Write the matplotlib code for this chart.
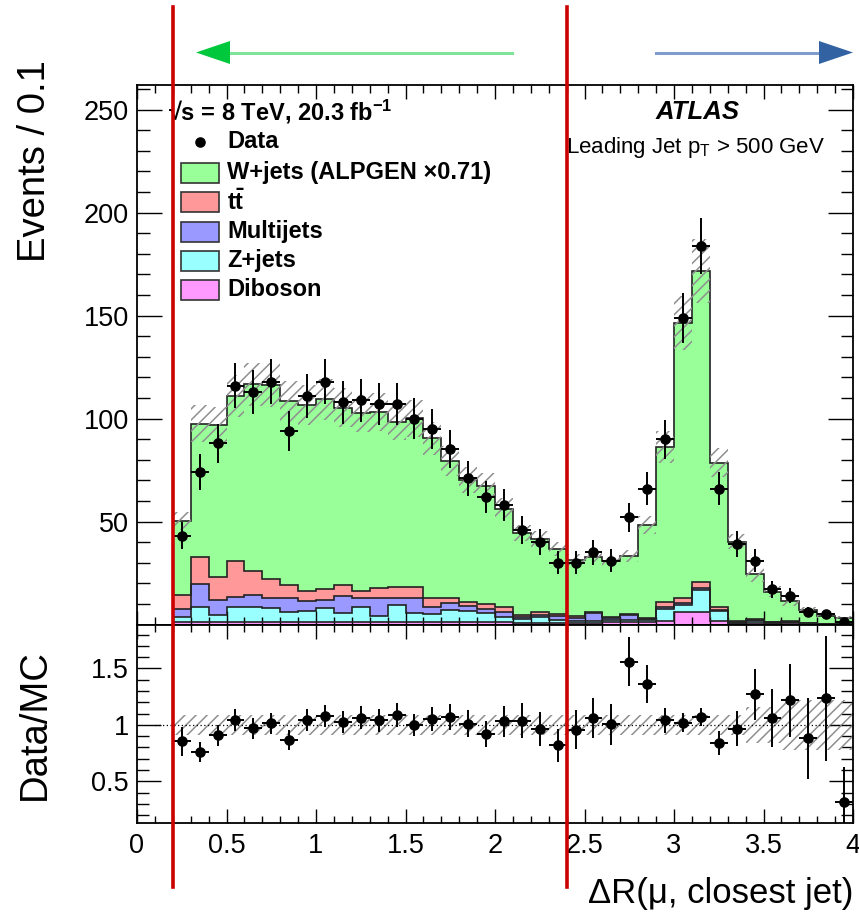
import numpy as np
import matplotlib
matplotlib.use('Agg')
import matplotlib.pyplot as plt
from matplotlib.lines import Line2D
from matplotlib.patches import Polygon, Rectangle
from matplotlib.ticker import MultipleLocator, FixedLocator

plt.rcParams['font.family'] = ['Liberation Sans', 'DejaVu Sans']
plt.rcParams['mathtext.fontset'] = 'custom'
plt.rcParams['mathtext.rm'] = 'Liberation Sans'
plt.rcParams['mathtext.bf'] = 'Liberation Sans:bold'
plt.rcParams['mathtext.it'] = 'Liberation Sans:italic'
plt.rcParams['hatch.linewidth'] = 1.1
plt.rcParams['hatch.color'] = '#8f8f8f'

# ---------------- data (bins of 0.1 from 0.2 to 4.0) ----------------
bin_edges = np.round(np.arange(0.2, 4.0001, 0.1), 2)

data = [43, 74, 88, 116, 113, 118, 94, 111, 118, 108,
        109, 107, 107, 100, 95, 85, 71, 62, 58, 46,
        40, 30, 30, 35, 31, 52, 66, 90, 149, 184,
        66, 39, 31, 17, 14, 6, 5, 1]

wjets = [35.9, 64.9, 73.8, 80.4, 90.7, 94.3, 89.0, 90.2, 92.1, 86.0,
         86.1, 85.5, 79.9, 81.9, 77.6, 66.6, 59.2, 57.3, 47.8, 39.6,
         35.5, 31.7, 27.4, 27.0, 27.2, 28.4, 45.2, 75.6, 133.4, 151.1,
         70.0, 38.4, 21.5, 14.9, 9.9, 6.2, 3.75, 2.9]
ttbar = [6.8, 13.0, 11.3, 17.3, 11.9, 8.9, 6.5, 5.2, 5.3, 5.7,
         3.7, 4.7, 5.5, 5.5, 4.1, 2.4, 1.9, 2.4, 2.3, 1.1,
         1.3, 1.1, 0.7, 0.5, 0.4, 0.5, 0.3, 2.2, 2.4, 2.9,
         1.8, 0.6, 0.5, 0.1, 0.3, 0.1, 0.0, 0.1]
multijets = [4.2, 11.4, 7.6, 4.9, 5.7, 5.2, 6.8, 4.6, 4.1, 7.8,
             4.5, 8.8, 3.5, 7.1, 3.4, 3.3, 2.5, 2.2, 2.7, 1.0,
             1.3, 1.6, 1.6, 3.9, 1.1, 2.0, 0.8, 1.3, 0.8, 1.1,
             0.3, 0.5, 0.8, 0.2, 0.3, 0.1, 0.1, 0.0]
zjets = [2.4, 7.1, 3.2, 7.2, 7.2, 6.7, 4.8, 5.4, 6.7, 4.6,
         7.1, 2.8, 8.1, 4.5, 4.1, 5.9, 5.4, 4.4, 2.4, 1.8,
         2.6, 1.5, 0.8, 0.8, 1.0, 1.3, 1.0, 5.4, 3.7, 10.7,
         4.9, 0.5, 0.8, 0.3, 0.5, 0.2, 0.1, 0.1]
diboson = [1.0, 1.2, 1.2, 1.2, 1.2, 1.2, 1.2, 1.2, 1.2, 1.2,
           1.2, 1.2, 1.2, 1.2, 1.2, 1.2, 1.2, 1.0, 1.0, 0.8,
           0.8, 0.8, 0.8, 0.8, 1.1, 1.1, 1.1, 1.9, 6.0, 6.0,
           1.6, 0.3, 0.8, 0.5, 0.5, 0.2, 0.1, 0.1]
mc_rel_unc = [0.09] * 32 + [0.16] * 2 + [0.22] * 4

process_labels = ['W+jets (ALPGEN \u00d70.71)', r'$\mathbf{t\bar{t}}$', 'Multijets', 'Z+jets', 'Diboson']
process_colors = ['#99ff99', '#ff9999', '#9999ff', '#99ffff', '#ff99ff']

upper_yticks = [50, 100, 150, 200, 250]
ratio_yticks = [0.5, 1, 1.5]
xticks = [0, 0.5, 1, 1.5, 2, 2.5, 3, 3.5, 4]
xtick_labels = ['0', '0.5', '1', '1.5', '2', '2.5', '3', '3.5', '4']
cut_values = [0.2, 2.4]

# ---------------- figure geometry ----------------
W, H = 859, 914
fig = plt.figure(figsize=(W / 100, H / 100), dpi=100)


def fx(px):
    return px / W


def fy(py):
    return 1 - py / H


L, R = 137, 853
T_up, B_up, B_lo = 85, 624.5, 823
ax = fig.add_axes([fx(L), fy(B_up), fx(R) - fx(L), fy(T_up) - fy(B_up)])
axr = fig.add_axes([fx(L), fy(B_lo), fx(R) - fx(L), fy(B_up) - fy(B_lo)])

edges = bin_edges
centers = (edges[:-1] + edges[1:]) / 2
data_a = np.array(data, float)
comps = [np.array(diboson), np.array(zjets), np.array(multijets), np.array(ttbar), np.array(wjets)]
comp_cols = [process_colors[4], process_colors[3], process_colors[2], process_colors[1], process_colors[0]]

bottom = np.zeros(len(centers))
tops = []
for vals, col in zip(comps, comp_cols):
    top = bottom + vals
    ax.stairs(top, edges, baseline=bottom, fill=True, color=col, lw=0, zorder=1)
    tops.append(top)
    bottom = top
for top in tops:
    ax.stairs(top, edges, baseline=0, color='#222222', lw=1.2, zorder=2)
tot = bottom
rel = np.array(mc_rel_unc)

ax.bar(centers, 2 * tot * rel, bottom=tot * (1 - rel), width=0.1, fill=False,
       hatch='///', edgecolor='#8f8f8f', linewidth=0, zorder=3)
ax.errorbar(centers, data_a, xerr=0.05, yerr=np.sqrt(data_a), fmt='o', color='black',
            ms=6.6, elinewidth=1.4, capsize=0, zorder=5)

# ratio
ratio = data_a / tot
rerr = np.sqrt(data_a) / tot
axr.bar(centers, 2 * rel, bottom=1 - rel, width=0.1, fill=False,
        hatch='///', edgecolor='#8f8f8f', linewidth=0, zorder=2)
axr.hlines(1, 0.1, 4.0, colors='black', linestyles=(0, (1, 2)), lw=0.9, zorder=3)
axr.errorbar(centers, ratio, xerr=0.05, yerr=rerr, fmt='o', color='black',
             ms=6.6, elinewidth=1.4, capsize=0, zorder=5)

# axes styling
for a in (ax, axr):
    a.set_xlim(0, 4)
    a.xaxis.set_major_locator(FixedLocator(xticks))
    a.xaxis.set_minor_locator(MultipleLocator(0.1))
    a.tick_params(which='both', direction='in', top=True, right=True, width=1.0, colors='black')
    for s in a.spines.values():
        s.set_linewidth(1.3)

ax.set_ylim(0, 262)
ax.yaxis.set_major_locator(FixedLocator([0] + upper_yticks))
ax.set_yticklabels([''] + [str(v) for v in upper_yticks])
ax.yaxis.set_minor_locator(MultipleLocator(10))
ax.tick_params(axis='y', which='major', length=18, labelsize=19.5, pad=6)
ax.tick_params(axis='y', which='minor', length=9)
ax.tick_params(axis='x', which='major', length=10)
ax.tick_params(axis='x', which='minor', length=6)
ax.tick_params(labelbottom=False)

axr.set_ylim(0.13, 1.89)
axr.yaxis.set_major_locator(FixedLocator(ratio_yticks))
axr.set_yticklabels(['0.5', '1', '1.5'])
axr.yaxis.set_minor_locator(MultipleLocator(0.1))
axr.tick_params(axis='y', which='major', length=17, labelsize=19.5, pad=6)
axr.tick_params(axis='y', which='minor', length=8.5)
axr.tick_params(axis='x', which='major', length=10, labelsize=19.5, pad=7)
axr.tick_params(axis='x', which='minor', length=5)
axr.set_xticklabels(xtick_labels)

# axis titles
fig.text(fx(35), fy(60), 'Events / 0.1', rotation=90, ha='center', va='top', fontsize=27.5)
fig.text(fx(35), fy(725), 'Data/MC', rotation=90, ha='center', va='center', fontsize=27.5)
fig.text(fx(853), fy(903), '\u0394R(\u03bc, closest jet)', ha='right', va='baseline', fontsize=25)

# annotations
fig.text(fx(168), fy(112), '\u221as = 8 TeV, 20.3 fb$^{\\mathbf{-1}}$', ha='left', va='center',
         fontsize=17, fontweight='bold')
fig.text(fx(698), fy(112), 'ATLAS', ha='center', va='center', fontsize=18.5,
         fontweight='bold', fontstyle='italic')
fig.text(fx(566), fy(148), 'Leading Jet p$_{\\mathrm{T}}$ > 500 GeV', ha='left', va='center', fontsize=16)

# legend (manual)
fig.add_artist(Line2D([fx(200)], [fy(141.5)], marker='o', color='black', ms=6.6, ls='none'))
fig.text(fx(227), fy(141.5), 'Data', ha='left', va='center', fontsize=17, fontweight='bold')
row_y = [172.7, 202.3, 231.7, 260.7, 290.0]
for lab, col, yy in zip(process_labels, process_colors, row_y):
    fig.add_artist(Rectangle((fx(181), fy(yy + 10)), fx(219) - fx(181), fy(yy - 10) - fy(yy + 10),
                             facecolor=col, edgecolor='#333333', lw=1.2))
    fig.text(fx(227), fy(yy), lab, ha='left', va='center', fontsize=17, fontweight='bold')

# red cut lines
for v in cut_values:
    xpx = L + (R - L) * v / 4.0
    fig.add_artist(Line2D([fx(xpx), fx(xpx)], [fy(7), fy(887)], color='#cc0000', lw=2.6, zorder=10))

# arrows at top
ya = 52.5
fig.add_artist(Line2D([fx(229), fx(512)], [fy(ya), fy(ya)], color='#7fe39a', lw=2.2, zorder=9))
fig.add_artist(Polygon([[fx(196), fy(ya)], [fx(230), fy(ya - 11.5)], [fx(230), fy(ya + 11.5)]],
                       closed=True, facecolor='#00c83c', edgecolor='none', zorder=9))
fig.add_artist(Line2D([fx(656), fx(820)], [fy(ya), fy(ya)], color='#7f9ccc', lw=2.2, zorder=9))
fig.add_artist(Polygon([[fx(853), fy(ya)], [fx(819), fy(ya - 11.5)], [fx(819), fy(ya + 11.5)]],
                       closed=True, facecolor='#3262a2', edgecolor='none', zorder=9))

fig.savefig('out.png', dpi=100)
